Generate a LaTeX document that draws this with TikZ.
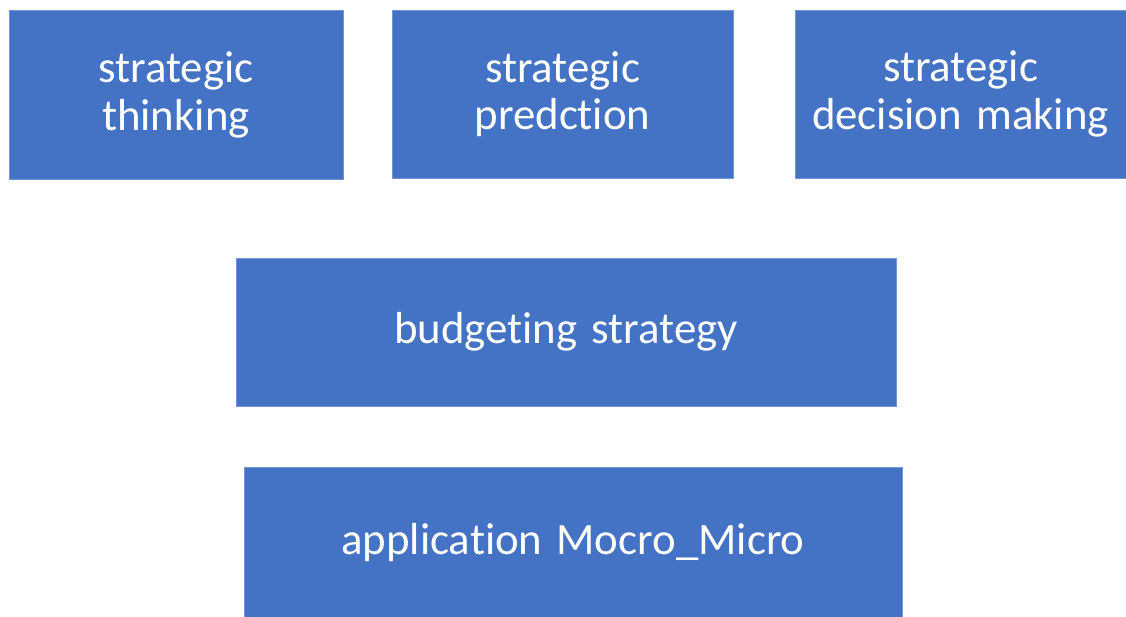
\documentclass[tikz,border=0pt]{standalone}
\usepackage{fontspec}
\setmainfont{Carlito}[Ligatures=NoCommon, WordSpace=1.4]
\usepackage{xcolor}
\usetikzlibrary{positioning}
\definecolor{boxblue}{HTML}{4472C4}
\tikzset{
    block/.style={rectangle, fill=boxblue, draw=boxblue!75!white, line width=0.8bp,
        text=white, align=center, inner sep=0pt,
        font=\fontsize{45}{48}\selectfont}
}

\begin{document}
\begin{tikzpicture}[x=1bp, y=-1bp]
                    \useasboundingbox (0, 0) rectangle (1126, 617);

                    \node[block, minimum width=334bp, minimum height=169bp] (thinking) at (176, 95) {strategic\\thinking};
                    \node[block, minimum width=341bp, minimum height=167.5bp] (prediction) at (562.5, 94.25) {strategic\\predction};
                    \node[block, minimum width=331bp, minimum height=167.5bp] (decision) at (960.5, 94.25) {strategic\\decision making};

                    \node[block, minimum width=660bp, minimum height=147.5bp] (budget) at (566, 332.25) {budgeting strategy};

                    \node[block, minimum width=658bp, minimum height=152bp] (micro) at (573, 543) {application Mocro\_Micro};
                \end{tikzpicture}
\end{document}
